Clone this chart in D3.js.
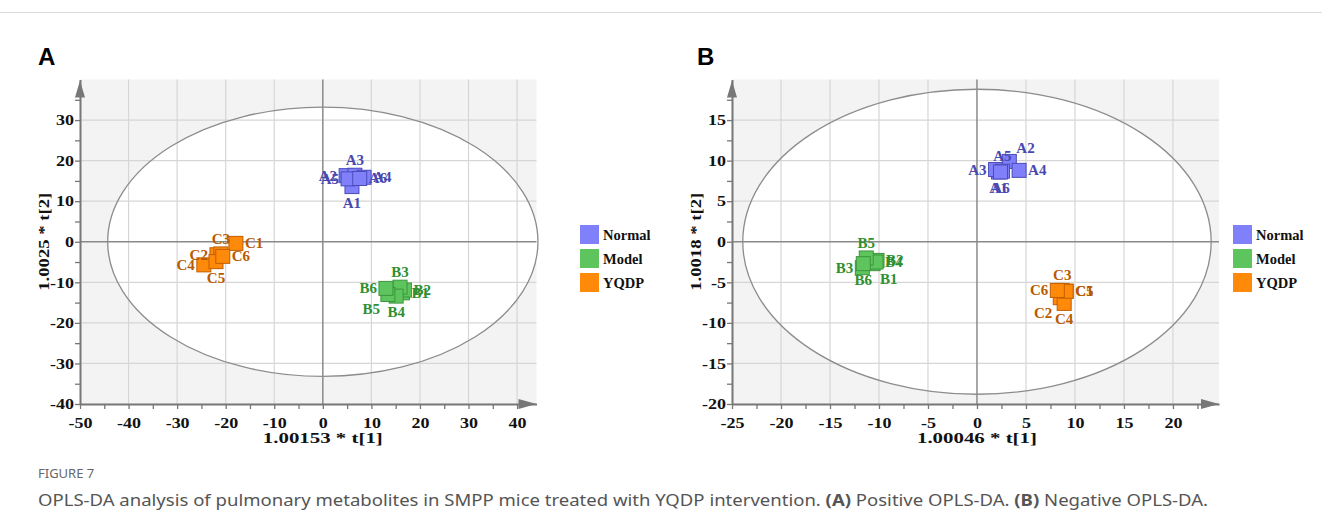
<!DOCTYPE html>
<html>
<head>
<meta charset="utf-8">
<script src="https://cdn.jsdelivr.net/npm/d3@7"></script>
<style>
  body { margin: 0; background: #fff; }
  svg text { font-family: "Liberation Serif", serif; }
</style>
</head>
<body>
<svg id="chart" width="1322" height="531"></svg>
<script>
// ---- data ----
const groups = ["Normal", "Model", "YQDP"];
const groupFill = ["#8080fa", "#5ec45e", "#ff8a0a"];
const groupStroke = ["#4b4bb8", "#3b963b", "#c25e00"];
const groupText = ["#4848b0", "#2f8f2f", "#b85a00"];

// panel A (positive)
const posLabels = ["A1","A2","A3","A4","A5","A6","B1","B2","B3","B4","B5","B6","C1","C2","C3","C4","C5","C6"];
const posX = [6.0, 4.8, 6.6, 8.5, 5.2, 7.6, 16.4, 16.8, 15.9, 15.1, 13.4, 13.0, -17.9, -21.8, -21.0, -24.5, -22.0, -20.6];
const posY = [13.6, 16.3, 16.4, 15.9, 15.5, 15.6, -12.6, -11.9, -11.2, -13.4, -13.0, -11.5, -0.4, -3.2, -3.0, -5.7, -4.9, -3.6];
const posLabelPos = ["below","left","above","right","left","right","right","right","above","below","belowleft","left","right","left","above","left","below","right"];

// panel B (negative)
const negLabels = ["A1","A2","A3","A4","A5","A6","B1","B2","B3","B4","B5","B6","C1","C2","C3","C4","C5","C6"];
const negX = [2.2, 3.3, 1.9, 4.3, 2.6, 2.4, -10.6, -10.2, -11.7, -10.3, -11.3, -11.6, 9.1, 8.5, 8.7, 8.9, 9.1, 8.2];
const negY = [8.6, 9.9, 8.9, 8.8, 8.7, 8.6, -2.7, -2.3, -3.2, -2.5, -2.0, -2.7, -6.1, -6.9, -6.0, -7.6, -6.1, -6.0];
const negLabelPos = ["below","aboveright","left","right","above","below","belowright","right","left","right","above","below","right","belowleft","above","below","right","left"];

const posXTicks = [-50, -40, -30, -20, -10, 0, 10, 20, 30, 40];
const posYTicks = [-40, -30, -20, -10, 0, 10, 20, 30];
const negXTicks = [-25, -20, -15, -10, -5, 0, 5, 10, 15, 20];
const negYTicks = [-20, -15, -10, -5, 0, 5, 10, 15];

const svg = d3.select("#chart");

// page top rule
svg.append("line").attr("x1", 0).attr("x2", 1322).attr("y1", 12.5).attr("y2", 12.5)
  .attr("stroke", "#d9d9d9");

function panel(opt) {
  const x = d3.scaleLinear().domain(opt.xDomain).range(opt.xRange);
  const y = d3.scaleLinear().domain(opt.yDomain).range(opt.yRange);
  const g = svg.append("g");

  // title letter
  svg.append("text").attr("x", opt.letterX).attr("y", 65)
    .style("font-family", "Liberation Sans, Arial, sans-serif")
    .attr("font-weight", "bold").attr("font-size", 24).text(opt.letter);

  // plot background
  g.append("rect")
    .attr("x", x(opt.xDomain[0])).attr("y", y(opt.yDomain[1]))
    .attr("width", x(opt.xDomain[1]) - x(opt.xDomain[0]))
    .attr("height", y(opt.yDomain[0]) - y(opt.yDomain[1]))
    .attr("fill", "#f3f3f3");

  // confidence ellipse fill
  g.append("ellipse")
    .attr("cx", x(0)).attr("cy", y(0))
    .attr("rx", x(opt.ell[0]) - x(0)).attr("ry", y(0) - y(opt.ell[1]))
    .attr("fill", "#fff");

  // grid
  const gx = opt.xTicks.filter(d => d !== 0 && d !== opt.xDomain[0]);
  const gy = opt.yTicks.filter(d => d !== 0 && d !== opt.yDomain[0]);
  g.selectAll(".gx").data(gx).enter().append("line")
    .attr("x1", d => x(d)).attr("x2", d => x(d))
    .attr("y1", y(opt.yDomain[0])).attr("y2", y(opt.yDomain[1]))
    .attr("stroke", "#d6d6d6").attr("stroke-width", 1.2);
  g.selectAll(".gy").data(gy).enter().append("line")
    .attr("y1", d => y(d)).attr("y2", d => y(d))
    .attr("x1", x(opt.xDomain[0])).attr("x2", x(opt.xDomain[1]))
    .attr("stroke", "#d6d6d6").attr("stroke-width", 1.2);

  // zero lines
  g.append("line").attr("x1", x(0)).attr("x2", x(0))
    .attr("y1", y(opt.yDomain[0])).attr("y2", y(opt.yDomain[1]))
    .attr("stroke", "#8a8a8a").attr("stroke-width", 1.5);
  g.append("line").attr("y1", y(0)).attr("y2", y(0))
    .attr("x1", x(opt.xDomain[0])).attr("x2", x(opt.xDomain[1]))
    .attr("stroke", "#8a8a8a").attr("stroke-width", 1.5);

  // ellipse outline
  g.append("ellipse")
    .attr("cx", x(0)).attr("cy", y(0))
    .attr("rx", x(opt.ell[0]) - x(0)).attr("ry", y(0) - y(opt.ell[1]))
    .attr("fill", "none").attr("stroke", "#8c8c8c").attr("stroke-width", 1.3);

  // axes
  const step = opt.xTicks[1] - opt.xTicks[0];
  const minorX = d3.range(opt.xDomain[0], opt.xDomain[1], step / 2);
  const ystep = opt.yTicks[1] - opt.yTicks[0];
  const minorY = d3.range(opt.yDomain[0], opt.yDomain[1], ystep / 2);

  const xAxis = d3.axisBottom(x).tickValues(minorX)
    .tickFormat(d => opt.xTicks.includes(d) ? d : "").tickSize(5).tickSizeOuter(0);
  const yAxis = d3.axisLeft(y).tickValues(minorY)
    .tickFormat(d => opt.yTicks.includes(d) ? d : "").tickSize(5).tickSizeOuter(0);

  const gxA = g.append("g").attr("transform", `translate(0,${y(opt.yDomain[0])})`).call(xAxis);
  const gyA = g.append("g").attr("transform", `translate(${x(opt.xDomain[0])},0)`).call(yAxis);
  [gxA, gyA].forEach(a => {
    a.select(".domain").attr("stroke", "#777").attr("stroke-width", 2);
    a.selectAll(".tick line").attr("stroke", "#777").attr("stroke-width", 1.3);
    a.selectAll(".tick text").attr("fill", "#111").attr("font-size", 15)
      .attr("font-weight", "bold").style("font-family", "Liberation Serif, serif");
  });
  gxA.selectAll(".tick text").attr("dy", "1.05em").attr("transform", "scale(1.2,1)");
  gyA.selectAll(".tick text").attr("x", -5).attr("transform", "scale(1.2,1)");

  // axis arrows
  const x0 = x(opt.xDomain[0]), y0 = y(opt.yDomain[0]);
  const xe = x(opt.xDomain[1]), ye = y(opt.yDomain[1]);
  g.append("path").attr("d", `M${x0 - 5},${ye + 18} L${x0},${ye + 1} L${x0 + 5},${ye + 18} Z`).attr("fill", "#777");
  g.append("path").attr("d", `M${xe - 18},${y0 - 5} L${xe},${y0} L${xe - 18},${y0 + 5} Z`).attr("fill", "#777");

  // axis titles
  svg.append("text").attr("x", x(0)).attr("y", 443).attr("text-anchor", "middle")
    .attr("textLength", opt.xTitleLen).attr("lengthAdjust", "spacingAndGlyphs")
    .attr("font-weight", "bold").attr("font-size", 15).attr("fill", "#111").text(opt.xTitle);
  svg.append("text").attr("transform", `translate(${x0 - 31},${y(0)}) rotate(-90)`)
    .attr("text-anchor", "middle")
    .attr("textLength", opt.yTitleLen).attr("lengthAdjust", "spacingAndGlyphs")
    .attr("font-weight", "bold").attr("font-size", 15).attr("fill", "#111").text(opt.yTitle);

  // points
  const pts = opt.labels.map((lab, i) => ({
    lab, gi: "ABC".indexOf(lab[0]), x: opt.px[i], y: opt.py[i], pos: opt.lpos[i]
  }));
  const s = 14;
  g.selectAll(".pt").data(pts).enter().append("rect")
    .attr("x", d => x(d.x) - s / 2).attr("y", d => y(d.y) - s / 2)
    .attr("width", s).attr("height", s)
    .attr("fill", d => groupFill[d.gi]).attr("stroke", d => groupStroke[d.gi]).attr("stroke-width", 1);

  const off = {
    left: [-9, 5, "end"], right: [9, 5, "start"], above: [0, -10, "middle"],
    below: [0, 21, "middle"], belowleft: [-8, 20, "end"], belowright: [7, 20, "start"],
    aboveright: [7, -8, "start"]
  };
  g.selectAll(".lab").data(pts).enter().append("text")
    .attr("x", d => x(d.x) + off[d.pos][0]).attr("y", d => y(d.y) + off[d.pos][1])
    .attr("text-anchor", d => off[d.pos][2])
    .attr("font-size", 15).attr("font-weight", "bold")
    .attr("fill", d => groupText[d.gi]).text(d => d.lab);

  // legend
  const lg = svg.append("g").attr("transform", `translate(${opt.legendX},225)`);
  groups.forEach((name, i) => {
    lg.append("rect").attr("x", 0).attr("y", i * 24).attr("width", 19).attr("height", 19)
      .attr("fill", groupFill[i]);
    lg.append("text").attr("x", 23).attr("y", i * 24 + 15).attr("font-size", 14.5)
      .attr("font-weight", "bold").attr("fill", "#111").text(name);
  });
}

panel({
  letter: "A", letterX: 38, xDomain: [-50, 44], yDomain: [-40, 40],
  xRange: [80, 536.5], yRange: [404, 79.5], ell: [44.3, 33.2],
  xTicks: posXTicks, yTicks: posYTicks,
  labels: posLabels, px: posX, py: posY, lpos: posLabelPos,
  xTitle: "1.00153 * t[1]", yTitle: "1.0025 * t[2]", legendX: 580,
  xTitleLen: 120, yTitleLen: 98
});

panel({
  letter: "B", letterX: 697, xDomain: [-25, 24.7], yDomain: [-20, 20],
  xRange: [732, 1219], yRange: [404, 79.5], ell: [23.9, 18.8],
  xTicks: negXTicks, yTicks: negYTicks,
  labels: negLabels, px: negX, py: negY, lpos: negLabelPos,
  xTitle: "1.00046 * t[1]", yTitle: "1.0018 * t[2]", legendX: 1233,
  xTitleLen: 120, yTitleLen: 98
});

// caption
svg.append("text").attr("x", 38).attr("y", 478)
  .style("font-family", "Noto Sans, sans-serif").attr("font-size", 13).attr("fill", "#666")
  .text("FIGURE 7");
const cap = svg.append("text").attr("x", 38).attr("y", 506)
  .attr("textLength", 1170).attr("lengthAdjust", "spacingAndGlyphs")
  .style("font-family", "Noto Sans, sans-serif").attr("font-size", 16).attr("fill", "#555");
cap.append("tspan").text("OPLS-DA analysis of pulmonary metabolites in SMPP mice treated with YQDP intervention. ");
cap.append("tspan").attr("font-weight", "bold").text("(A)");
cap.append("tspan").text(" Positive OPLS-DA. ");
cap.append("tspan").attr("font-weight", "bold").text("(B)");
cap.append("tspan").text(" Negative OPLS-DA.");
</script>
</body>
</html>
